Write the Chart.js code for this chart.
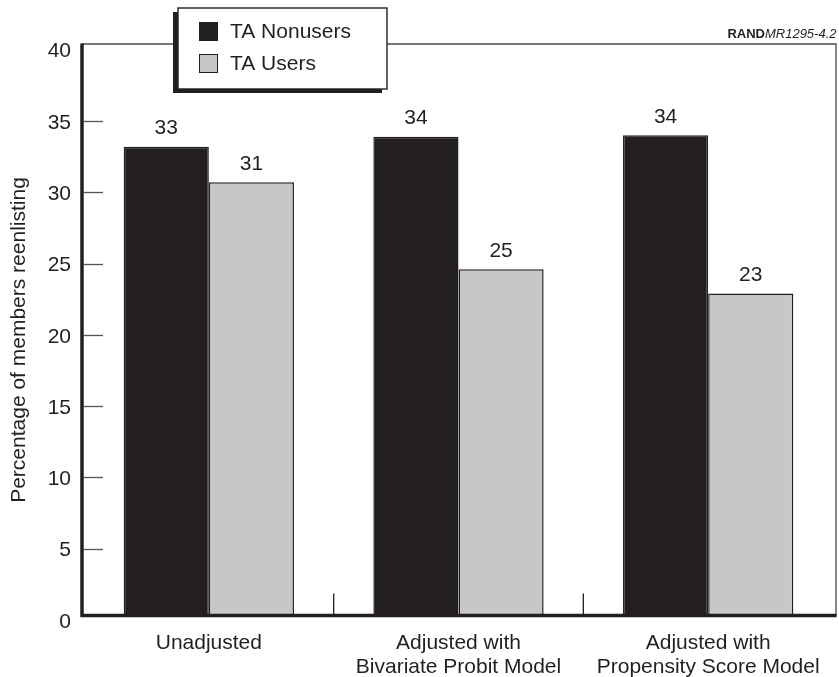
<!DOCTYPE html>
<html>
<head>
<meta charset="utf-8">
<script src="https://cdn.jsdelivr.net/npm/chart.js@4/dist/chart.umd.min.js"></script>
<style>
  html, body { margin: 0; padding: 0; background: #fff; }
  canvas { display: block; }
</style>
</head>
<body>
<canvas id="chart" width="839" height="677"></canvas>
<script>
// Reenlistment rates by Tuition Assistance use
const categories = [
  ['Unadjusted'],
  ['Adjusted with', 'Bivariate Probit Model'],
  ['Adjusted with', 'Propensity Score Model']
];
const seriesNames = ['TA Nonusers', 'TA Users'];
const nonusers = [33.2, 33.9, 34.0];
const users = [30.7, 24.6, 22.9];
const yTickValues = [0, 5, 10, 15, 20, 25, 30, 35, 40];
const yAxisTitle = 'Percentage of members reenlisting';
const sourceBold = 'RAND';
const sourceItalic = 'MR1295-4.2';

const INK = '#231f20';
const GREY = '#c6c7c9';
const FONT = '"Liberation Sans", Arial, Helvetica, sans-serif';
const SIZE = 21;

const decor = {
  id: 'decor',
  afterDatasetsDraw(chart) {
    const { ctx, chartArea: a, scales: { x, y } } = chart;
    const frameRight = a.right + 3;
    const axisX = a.left - 2;
    const axisY = a.bottom - 1.5;
    ctx.save();

    // thin frame on top and right
    ctx.strokeStyle = '#4a4a4a';
    ctx.lineWidth = 1.3;
    ctx.beginPath();
    ctx.moveTo(axisX, a.top);
    ctx.lineTo(frameRight, a.top);
    ctx.lineTo(frameRight, axisY);
    ctx.stroke();

    // inward tick marks on the value axis
    ctx.strokeStyle = '#555';
    ctx.lineWidth = 1.3;
    yTickValues.slice(1, -1).forEach(v => {
      const py = Math.round(y.getPixelForValue(v)) + 0.5;
      ctx.beginPath();
      ctx.moveTo(a.left, py);
      ctx.lineTo(a.left + 19, py);
      ctx.stroke();
    });

    // short separators between category groups
    ctx.strokeStyle = INK;
    ctx.lineWidth = 1.3;
    for (let i = 0; i < categories.length - 1; i++) {
      const px = (x.getPixelForValue(i) + x.getPixelForValue(i + 1)) / 2;
      ctx.beginPath();
      ctx.moveTo(px, axisY);
      ctx.lineTo(px, axisY - 22);
      ctx.stroke();
    }

    // heavy axis lines
    ctx.strokeStyle = INK;
    ctx.lineWidth = 3.5;
    ctx.lineJoin = 'miter';
    ctx.beginPath();
    ctx.moveTo(axisX, a.top - 0.6);
    ctx.lineTo(axisX, axisY);
    ctx.lineTo(frameRight + 0.6, axisY);
    ctx.stroke();

    // value labels above the bars
    ctx.fillStyle = INK;
    ctx.font = SIZE + 'px ' + FONT;
    ctx.textAlign = 'center';
    ctx.textBaseline = 'middle';
    chart.data.datasets.forEach((ds, d) => {
      chart.getDatasetMeta(d).data.forEach((bar, i) => {
        ctx.fillText(String(Math.round(ds.data[i])), bar.x, bar.y - 18);
      });
    });
    ctx.restore();
  },
  afterDraw(chart) {
    const { ctx, chartArea: a } = chart;
    ctx.save();

    // legend box with drop shadow
    const L = { x: 178, y: 8, w: 209, h: 81 };
    ctx.fillStyle = INK;
    ctx.fillRect(L.x - 5, L.y + 4, L.w, L.h);
    ctx.fillStyle = '#fff';
    ctx.fillRect(L.x, L.y, L.w, L.h);
    ctx.strokeStyle = INK;
    ctx.lineWidth = 1.4;
    ctx.strokeRect(L.x, L.y, L.w, L.h);

    ctx.font = SIZE + 'px ' + FONT;
    ctx.textAlign = 'left';
    ctx.textBaseline = 'middle';
    chart.data.datasets.forEach((ds, d) => {
      const sy = 22 + d * 32;
      ctx.fillStyle = ds.backgroundColor;
      ctx.fillRect(199, sy, 19, 19);
      ctx.strokeStyle = INK;
      ctx.lineWidth = 1;
      ctx.strokeRect(199.5, sy + 0.5, 18, 18);
      ctx.fillStyle = INK;
      ctx.fillText(ds.label, 230, sy + 10);
    });

    // source tag in the top-right corner
    const right = a.right + 3.5;
    ctx.textBaseline = 'alphabetic';
    ctx.font = 'italic 13px ' + FONT;
    const wItalic = ctx.measureText(sourceItalic).width;
    ctx.fillStyle = INK;
    ctx.fillText(sourceItalic, right - wItalic, 37.5);
    ctx.font = 'bold 13px ' + FONT;
    const wBold = ctx.measureText(sourceBold).width;
    ctx.fillText(sourceBold, right - wItalic - wBold, 37.5);

    // value axis title
    ctx.translate(19, 340);
    ctx.rotate(-Math.PI / 2);
    ctx.font = SIZE + 'px ' + FONT;
    ctx.textAlign = 'center';
    ctx.textBaseline = 'middle';
    ctx.fillText(yAxisTitle, 0, 0);
    ctx.restore();
  }
};

new Chart(document.getElementById('chart'), {
  type: 'bar',
  data: {
    labels: categories,
    datasets: [
      {
        label: seriesNames[0],
        data: nonusers,
        backgroundColor: INK,
        borderColor: INK,
        borderWidth: 1.5,
        categoryPercentage: 0.682,
        barPercentage: 1
      },
      {
        label: seriesNames[1],
        data: users,
        backgroundColor: GREY,
        borderColor: INK,
        borderWidth: 1.5,
        categoryPercentage: 0.682,
        barPercentage: 1
      }
    ]
  },
  options: {
    responsive: false,
    devicePixelRatio: 1,
    animation: false,
    layout: { padding: { left: 0, top: 44, right: 6, bottom: 0 } },
    plugins: {
      legend: { display: false },
      tooltip: { enabled: false }
    },
    scales: {
      x: {
        type: 'category',
        offset: true,
        grid: { display: false, drawTicks: false },
        border: { display: false },
        ticks: {
          color: INK,
          font: { family: FONT, size: SIZE, lineHeight: 24 / SIZE },
          padding: 14,
          maxRotation: 0,
          autoSkip: false
        },
        afterFit(scale) { scale.height = 60; }
      },
      y: {
        min: 0.2,
        max: 40.4,
        afterBuildTicks(scale) {
          scale.ticks = yTickValues.map(v => ({ value: v }));
        },
        grid: { display: false, drawTicks: false },
        border: { display: false },
        ticks: {
          color: INK,
          font: { family: FONT, size: SIZE },
          padding: 13,
          labelOffset: 2
        },
        afterFit(scale) { scale.width = 84; }
      }
    }
  },
  plugins: [decor]
});
</script>
</body>
</html>
